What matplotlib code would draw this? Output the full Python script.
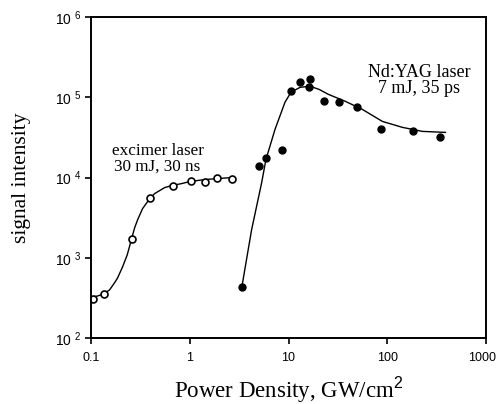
import numpy as np
import matplotlib.pyplot as plt
import matplotlib.transforms as mtransforms
from matplotlib.ticker import FixedLocator, FixedFormatter, NullLocator

# excimer laser data (open circles)
exc_x = [0.104, 0.134, 0.258, 0.393, 0.672, 1.02, 1.42, 1.88, 2.67]
exc_y = [307, 355, 1728, 5623, 7943, 9173, 8913, 10000, 9716]
# excimer fit curve
exc_fit_x = [0.101, 0.117, 0.134, 0.154, 0.173, 0.186, 0.209, 0.233, 0.258, 0.277, 0.297,
             0.333, 0.393, 0.441, 0.496, 0.557, 0.657, 0.83, 1.0, 1.42, 1.92, 2.67]
exc_fit_y = [325, 335, 355, 398, 487, 562, 772, 1090, 1728, 2371, 2985,
             4098, 5464, 6310, 6879, 7499, 7943, 8414, 8913, 9441, 9716, 10000]

# Nd:YAG laser data (filled circles)
yag_x = [3.37, 5.02, 5.91, 8.59, 10.6, 13.1, 16.5, 16.1, 22.9, 32.6, 49.6, 86.9, 183.6, 345]
yag_y = [434, 14125, 17280, 21750, 118850, 154000, 168000, 133000, 89100, 86600, 75000,
         39800, 37600, 31600]
# Nd:YAG fit curve
yag_fit_x = [3.37, 4.23, 5.35, 5.91, 7.3, 9.21, 10.6, 13.1, 16.5, 20.5, 25.2, 37.5, 55.7,
             89, 142, 226, 388]
yag_fit_y = [434, 2239, 8660, 16800, 39800, 86600, 115500, 133000, 137300, 125000, 109000,
             89100, 70800, 50100, 42200, 37600, 36500]

xticks = [0.1, 1, 10, 100, 1000]
xtick_labels = ["0.1", "1", "10", "100", "1000"]
yticks = [1e2, 1e3, 1e4, 1e5, 1e6]
ytick_labels = [r"10 $^{2}$", r"10 $^{3}$", r"10 $^{4}$", r"10 $^{5}$", r"10 $^{6}$"]

plt.rcParams['mathtext.fontset'] = 'custom'
plt.rcParams['mathtext.rm'] = 'Liberation Sans'

fig = plt.figure(figsize=(4.97, 4.04), dpi=100)
ax = fig.add_axes([0.183, 0.163, 0.795, 0.795])

ax.plot(exc_fit_x, exc_fit_y, 'k-', lw=1.0)
ax.plot(exc_x, exc_y, 'o', mfc='white', mec='black', mew=1.2, ms=5)
ax.plot(yag_fit_x, yag_fit_y, 'k-', lw=1.0)
ax.plot(yag_x, yag_y, 'o', color='black', ms=5)

ax.set_xscale('log')
ax.set_yscale('log')
ax.set_xlim(0.1, 1000)
ax.set_ylim(1e2, 1e6)

ax.xaxis.set_major_locator(FixedLocator(xticks))
ax.xaxis.set_major_formatter(FixedFormatter(xtick_labels))
ax.xaxis.set_minor_locator(NullLocator())
ax.yaxis.set_major_locator(FixedLocator(yticks))
ax.yaxis.set_major_formatter(FixedFormatter(ytick_labels))
ax.yaxis.set_minor_locator(NullLocator())

ax.tick_params(direction='out', length=4, width=1.2)
ax.tick_params(axis='x', pad=6, labelsize=9)
ax.tick_params(axis='y', pad=3, labelsize=10)
for lab in ax.get_xticklabels() + ax.get_yticklabels():
    lab.set_family('Liberation Sans')
# nudge the last x label so it stays inside the figure
last = ax.get_xticklabels()[-1]
last.set_transform(last.get_transform() +
                   mtransforms.ScaledTranslation(-4 / 100, 0, fig.dpi_scale_trans))
for sp in ax.spines.values():
    sp.set_linewidth(1.4)

ax.set_xlabel("Power Density, GW/cm$^{2}$", family='Liberation Serif', fontsize=16.5, labelpad=8)
ax.set_ylabel("signal intensity", family='Liberation Serif', fontsize=15.5, labelpad=17)

ax.text(0.473, 1.08e4, "excimer laser\n30 mJ, 30 ns", family='Liberation Serif', fontsize=12.3,
        ha='center', va='bottom', linespacing=1.0)
ax.text(211, 1.0e5, "Nd:YAG laser\n7 mJ, 35 ps", family='Liberation Serif', fontsize=13,
        ha='center', va='bottom', linespacing=0.95)

fig.savefig("out.png", dpi=100)
